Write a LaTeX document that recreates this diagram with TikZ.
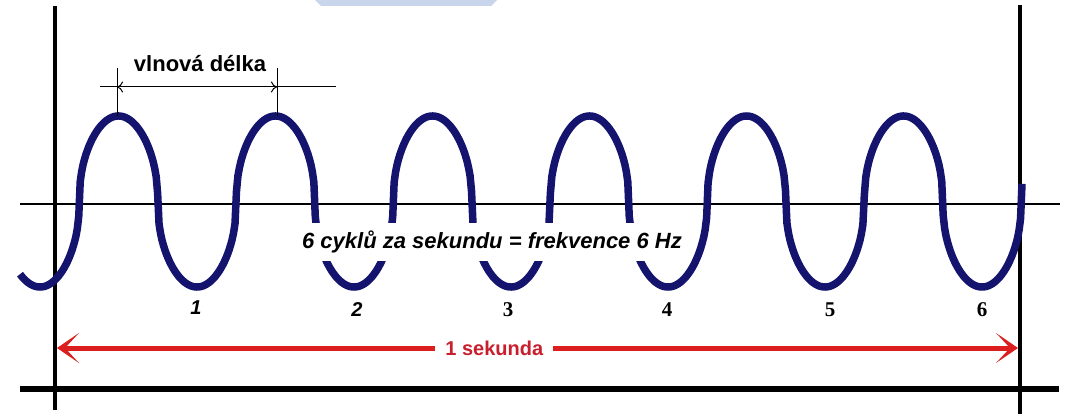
\documentclass[tikz,border=0pt]{standalone}
\usepackage{fontspec}
\setmainfont{Liberation Serif}
\setsansfont{Liberation Sans}
\usetikzlibrary{arrows.meta,positioning,calc}
\definecolor{wavecol}{HTML}{14146E}
\definecolor{arrowred}{HTML}{DD1E1E}
\definecolor{labelred}{HTML}{C81E2D}
\definecolor{markblue}{HTML}{C9D5EA}

\begin{document}
\begin{tikzpicture}[x=1pt, y=-1pt,
    declare function={cc(\t)=cos((\t-40)/157*360); wv(\t)=201.5+85.5*sign(cc(\t))*pow(abs(cc(\t))+0.0001,0.45);},
    frame/.style={line width=3.5pt, black},
    lbl/.style={font=\sffamily\bfseries\fontsize{20}{22}\selectfont, inner sep=1pt},
    numsans/.style={font=\sffamily\bfseries\itshape\fontsize{20}{22}\selectfont, inner sep=0pt},
    numserif/.style={font=\bfseries\fontsize{21}{22}\selectfont, inner sep=0pt}]
    \useasboundingbox (0,0) rectangle (1068,414);
    \fill[markblue] (315,0) -- (497,0) -- (491,6) -- (321,6) -- cycle;

    \coordinate (leftTop) at (55,6);
    \coordinate (leftBot) at (55,410);
    \coordinate (rightTop) at (1020,5);
    \coordinate (rightBot) at (1020,414);
    \coordinate (axisL) at (20,204);
    \coordinate (axisR) at (1060,204);
    \coordinate (baseL) at (20,389);
    \coordinate (baseR) at (1059,389);
    \draw[frame] (leftTop) -- (leftBot);
    \draw[frame, line width=4pt] (rightTop) -- (rightBot);
    \draw[line width=1.2pt] (axisL) -- (axisR);
    \draw[frame, line width=5.5pt] (baseL) -- (baseR);

    \draw[wavecol, line width=7.5pt, line join=round] plot[domain=20:1022, samples=700] (\x, {wv(\x)});

    \coordinate (dimL) at (100,87);
    \coordinate (dimR) at (336,87);
    \coordinate (peakA) at (117,116);
    \coordinate (peakB) at (277,116);
    \coordinate (tickA) at (117,68);
    \coordinate (tickB) at (277,68);
    \draw[line width=1pt] (dimL) -- (dimR);
    \draw[line width=1pt] (tickA) -- (peakA);
    \draw[line width=1pt] (tickB) -- (peakB);
    \draw[line width=1pt, {To[length=6pt,width=11pt]}-{To[length=6pt,width=11pt]}] (tickA |- dimL) -- (tickB |- dimL);
    \node[lbl, font=\sffamily\bfseries\fontsize{22}{24}\selectfont, anchor=base] (wavelen) at (200,72) {vlnová délka};

    \node[lbl, font=\sffamily\bfseries\itshape\fontsize{22}{24}\selectfont, fill=white, inner xsep=5pt, minimum height=37pt] (freq) at (492,242) {6 cyklů za sekundu = frekvence 6 Hz};

    \node[numsans] (n1) at (196,308) {1};
    \node[numsans] (n2) at (357,310) {2};
    \node[numserif] (n3) at (508,310) {3};
    \node[numserif] (n4) at (667,310) {4};
    \node[numserif] (n5) at (830,310) {5};
    \node[numserif] (n6) at (982,310) {6};

    \coordinate (secL) at (57,348);
    \coordinate (secR) at (1018,348);
    \draw[arrowred, line width=5pt, {Stealth[length=22pt,width=30pt,inset=14pt]}-{Stealth[length=22pt,width=30pt,inset=14pt]}] (secL) -- node[lbl, pos=0.455, fill=white, text=labelred, inner xsep=10pt] (sec) {1 sekunda} (secR);
\end{tikzpicture}
\end{document}
